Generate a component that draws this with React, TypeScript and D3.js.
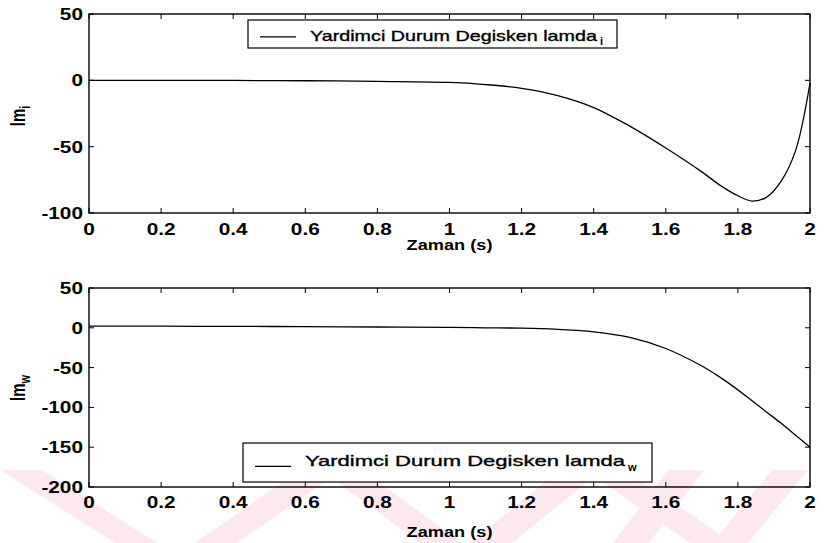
import React from "react";
import * as d3 from "d3";

// Time samples (s) and co-state values for both panels
const time = [0, 0.2, 0.4, 0.6, 0.8, 1.0, 1.1, 1.2, 1.3, 1.4, 1.5, 1.6, 1.7, 1.75, 1.8, 1.84, 1.88, 1.92, 1.96, 2.0];
const lamdaI = [0, 0, -0.1, -0.3, -0.8, -1.6, -3.2, -6, -11.5, -20.5, -34.5, -51, -69, -79, -87, -91, -88, -76, -53, -2];
const lamdaW = [2, 2, 1.8, 1.5, 1.0, 0.5, 0, -0.5, -2, -5, -12, -26, -48, -62, -78, -92, -106, -120, -135, -150];

const xTicks = [0, 0.2, 0.4, 0.6, 0.8, 1, 1.2, 1.4, 1.6, 1.8, 2];
const xTickLabels = ["0", "0.2", "0.4", "0.6", "0.8", "1", "1.2", "1.4", "1.6", "1.8", "2"];
const yTicksTop = [50, 0, -50, -100];
const yTicksBottom = [50, 0, -50, -100, -150, -200];

const xLabel = "Zaman (s)";
const legendText = "Yardimci Durum Degisken lamda";

const FONT = "'Liberation Sans', Arial, sans-serif";
const SX = 1.3;

// pale diagonal stripes along the page bottom: [x at top edge, x at bottom edge, width]
const stripes: [number, number, number][] = [
  [0, 115, 42],
  [300, 195, 42],
  [320, 420, 42],
  [560, 470, 42],
  [585, 690, 42],
  [668, 613, 36],
  [772, 712, 36],
];

type PanelProps = {
  top: number;
  bottom: number;
  yDomain: [number, number];
  yTicks: number[];
  values: number[];
  ylabelY: number;
  sub: string;
  xLabelY: number;
  tickLabelY: number;
  legend: { x: number; y: number; w: number; h: number; textLen: number; baseline: number; subX: number; subDy: number };
};

const LEFT = 89;
const RIGHT = 810;

function Panel(p: PanelProps) {
  const x = d3.scaleLinear().domain([0, 2]).range([LEFT, RIGHT]);
  const y = d3.scaleLinear().domain(p.yDomain).range([p.bottom, p.top]);
  const line = d3
    .line<number>()
    .x((_, i) => x(time[i]))
    .y((d) => y(d))
    .curve(d3.curveCatmullRom.alpha(0.5));
  const tk = 5;
  const lg = p.legend;
  return (
    <g>
      <path d={line(p.values) || ""} fill="none" stroke="#000" strokeWidth={1.3} />
      <rect x={LEFT} y={p.top} width={RIGHT - LEFT} height={p.bottom - p.top} fill="none" stroke="#000" strokeWidth={1.4} />
      {xTicks.map((t, i) => (
        <g key={"x" + i}>
          <line x1={x(t)} x2={x(t)} y1={p.bottom} y2={p.bottom - tk} stroke="#000" strokeWidth={1} />
          <line x1={x(t)} x2={x(t)} y1={p.top} y2={p.top + tk} stroke="#000" strokeWidth={1} />
          <text
            transform={`translate(${x(t)},${p.tickLabelY}) scale(${SX},1)`}
            textAnchor="middle"
            fontFamily={FONT}
            fontWeight="bold"
            fontSize={16}
          >
            {xTickLabels[i]}
          </text>
        </g>
      ))}
      {p.yTicks.map((v, i) => (
        <g key={"y" + i}>
          <line x1={LEFT} x2={LEFT + tk} y1={y(v)} y2={y(v)} stroke="#000" strokeWidth={1} />
          <line x1={RIGHT} x2={RIGHT - tk} y1={y(v)} y2={y(v)} stroke="#000" strokeWidth={1} />
          <text
            transform={`translate(${LEFT - 6},${y(v) + 6}) scale(${SX},1)`}
            textAnchor="end"
            fontFamily={FONT}
            fontWeight="bold"
            fontSize={16}
          >
            {v}
          </text>
        </g>
      ))}
      <text
        transform={`translate(${(LEFT + RIGHT) / 2},${p.xLabelY}) scale(${SX},1)`}
        textAnchor="middle"
        fontFamily={FONT}
        fontWeight="bold"
        fontSize={14}
      >
        {xLabel}
      </text>
      <text
        transform={`translate(25,${p.ylabelY}) scale(${SX},1) rotate(-90)`}
        textAnchor="middle"
        fontFamily={FONT}
        fontWeight="bold"
        fontSize={15}
      >
        lm
        <tspan fontSize={11} dy={4}>
          {p.sub}
        </tspan>
      </text>
      <rect x={lg.x} y={lg.y} width={lg.w} height={lg.h} fill="#fff" stroke="#000" strokeWidth={1.2} />
      <line x1={lg.x + 12} x2={lg.x + 48} y1={lg.y + lg.h * 0.6} y2={lg.y + lg.h * 0.6} stroke="#000" strokeWidth={1.3} />
      <text
        x={lg.x + 62}
        y={lg.baseline}
        textLength={lg.textLen}
        lengthAdjust="spacingAndGlyphs"
        fontFamily={FONT}
        fontSize={15}
        stroke="#000"
        strokeWidth={0.35}
      >
        {legendText}
      </text>
      <text x={lg.subX} y={lg.baseline + lg.subDy} fontFamily={FONT} fontSize={11} fontWeight="bold">
        {p.sub}
      </text>
    </g>
  );
}

export default function App() {
  return (
    <svg
      width={824}
      height={543}
      style={{ position: "absolute", left: 0, top: 0, background: "#fff" }}
    >
      <rect width={824} height={543} fill="#fff" />
      <g fill="#fde9ed">
        {stripes.map(([xt, xb, w], i) => (
          <polygon key={i} points={`${xt},470 ${xt + w},470 ${xb + w},543 ${xb},543`} />
        ))}
      </g>
      <Panel
        top={14}
        bottom={213}
        yDomain={[-100, 50]}
        yTicks={yTicksTop}
        values={lamdaI}
        ylabelY={116}
        sub="i"
        xLabelY={250}
        tickLabelY={235}
        legend={{ x: 248, y: 20, w: 369, h: 28, textLen: 287, baseline: 41, subX: 600, subDy: 4 }}
      />
      <Panel
        top={288}
        bottom={487}
        yDomain={[-200, 50]}
        yTicks={yTicksBottom}
        values={lamdaW}
        ylabelY={388}
        sub="w"
        xLabelY={537}
        tickLabelY={508}
        legend={{ x: 243, y: 443, w: 409, h: 39, textLen: 320, baseline: 466, subX: 628, subDy: 5 }}
      />
    </svg>
  );
}
